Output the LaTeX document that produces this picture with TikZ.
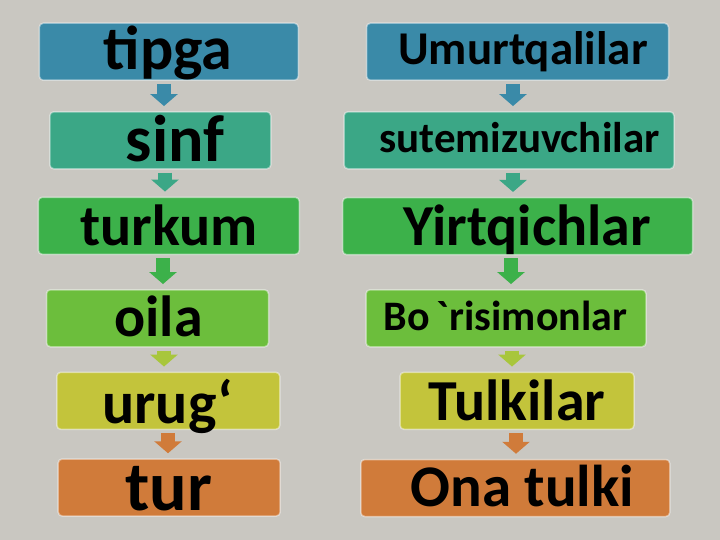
\documentclass[tikz,border=0pt]{standalone}
\usepackage{fontspec}
\setmainfont{Carlito}
\newfontfamily\nomapfont{Carlito}[Ligatures=TeXOff]
\usetikzlibrary{arrows.meta}
\definecolor{bgc}{HTML}{C9C7C1}
\definecolor{cblue}{HTML}{3A8AA8}
\definecolor{cteal}{HTML}{3BA786}
\definecolor{cgreen}{HTML}{3CB14A}
\definecolor{clime}{HTML}{6CBE3C}
\definecolor{colive}{HTML}{C3C43B}
\definecolor{corange}{HTML}{D07B3A}
\definecolor{alime}{HTML}{A8C63C}
\newcommand\fsz[1]{\fontsize{#1}{#1}\selectfont\bfseries}
\begin{document}
\begin{tikzpicture}[x=1pt,y=-1pt,
  box/.style={draw=white, draw opacity=0.45, line width=1.5pt, rounded corners=4pt,
    fill=#1, inner sep=0pt, minimum height=57pt},
  txt/.style={anchor=base, inner sep=0pt, text=black},
  arr/.style={draw=#1, line width=14pt, -{Triangle[width=27pt,length=12pt]},
    shorten <=3pt, shorten >=5pt}]
\useasboundingbox[fill=bgc] (0,0) rectangle (720,540);
% left column
\node[box=cblue, minimum width=259pt] (tipga) at (168.8,51.7) {};
\node[box=cteal, minimum width=221pt] (sinf) at (160.3,140.3) {};
\node[box=cgreen, minimum width=261pt] (turkum) at (168.8,225.8) {};
\node[box=clime, minimum width=222pt] (oila) at (157.5,318.3) {};
\node[box=colive, minimum width=223pt] (urug) at (168.3,400.8) {};
\node[box=corange, minimum width=222pt] (tur) at (169.2,487.5) {};
% right column
\node[box=cblue, minimum width=302pt] (umu) at (517.5,51.7) {};
\node[box=cteal, minimum width=330pt] (sut) at (509,140.3) {};
\node[box=cgreen, minimum width=350pt] (yirt) at (517.7,226.2) {};
\node[box=clime, minimum width=280pt] (bor) at (506,318.3) {};
\node[box=colive, minimum width=234pt] (tulk) at (517,400.8) {};
\node[box=corange, minimum width=309pt] (ona) at (515.3,488) {};
% texts
\node[txt, font=\fsz{62}] (tipgaT) at (168,70) {tipga};
\node[txt, font=\fsz{66}] (sinfT) at (175,162) {sinf};
\node[txt, font=\fsz{58}] (turkumT) at (169,245) {turkum};
\node[txt, font=\fsz{58}] (oilaT) at (158.5,336.5) {oila};
\node[txt, font=\fsz{60}] (urugT) at (167.5,423) {urug‘};
\node[txt, font=\fsz{70}] (turT) at (169,510) {tur};
\node[txt, font=\fsz{47}] (umuT) at (523,65) {Umurtqalilar};
\node[txt, font=\fsz{43}] (sutT) at (519.5,153) {sutemizuvchilar};
\node[txt, font=\fsz{58}] (yirtT) at (527,245) {Yirtqichlar};
\node[txt, font=\fsz{42}] (borT) at (505.5,330) {Bo{\nomapfont\bfseries\,`}risimonlar};
\node[txt, font=\fsz{58}] (tulkT) at (517,420) {Tulkilar};
\node[txt, font=\fsz{59}] (onaT) at (522.5,506.5) {Ona tulki};
% arrows left
\draw[arr=cblue] (tipga.south -| 164,0) -- (sinf.north -| 164,0);
\draw[arr=cteal] (sinf.south -| 165,0) -- (turkum.north -| 165,0);
\draw[arr=cgreen] (turkum.south -| 163,0) -- (oila.north -| 163,0);
\draw[arr=alime] (oila.south -| 164,0) -- (urug.north -| 164,0);
\draw[arr=corange] (urug.south -| 168,0) -- (tur.north -| 168,0);
% arrows right
\draw[arr=cblue] (umu.south -| 513,0) -- (sut.north -| 513,0);
\draw[arr=cteal] (sut.south -| 513,0) -- (yirt.north -| 513,0);
\draw[arr=cgreen] (yirt.south -| 511,0) -- (bor.north -| 511,0);
\draw[arr=alime] (bor.south -| 512,0) -- (tulk.north -| 512,0);
\draw[arr=corange] (tulk.south -| 516,0) -- (ona.north -| 516,0);
\end{tikzpicture}
\end{document}
